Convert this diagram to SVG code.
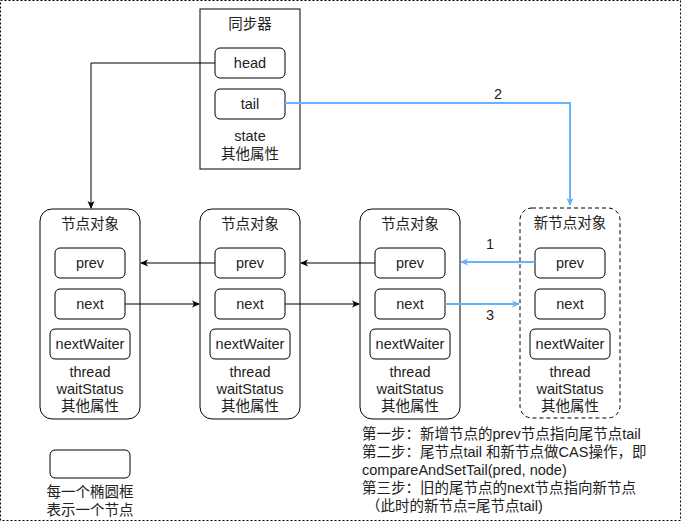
<svg xmlns="http://www.w3.org/2000/svg" width="681" height="521" viewBox="0 0 681 521">
<style>
text{font-family:"Liberation Sans","Noto Sans CJK SC",sans-serif;font-size:14.5px;fill:#222;text-anchor:middle}
.b{fill:#fff;stroke:#000;stroke-width:1}
.k{fill:none;stroke:#000;stroke-width:1}
.u{fill:none;stroke:#66b2ff;stroke-width:2}
.cap{text-anchor:start}
</style>
<defs>
<marker id="ak" markerWidth="8" markerHeight="8" refX="7" refY="4" orient="auto" markerUnits="userSpaceOnUse"><path d="M0,0.5 L8,4 L0,7.5 L2,4Z" fill="#000"/></marker>
<marker id="au" markerWidth="8" markerHeight="8" refX="7" refY="4" orient="auto" markerUnits="userSpaceOnUse"><path d="M0,0.5 L8,4 L0,7.5 L2,4Z" fill="#66b2ff"/></marker>
</defs>
<rect x="0.5" y="0.5" width="680" height="520" fill="#fff" stroke="#000" stroke-dasharray="2,2"/>
<g id="sync">
<rect class="b" x="200" y="9" width="100" height="160"/>
<text x="250" y="29">同步器</text>
<rect class="b" x="215" y="48" width="70" height="30" rx="5"/><text x="250" y="68">head</text>
<rect class="b" x="215" y="89" width="70" height="30" rx="5"/><text x="250" y="109">tail</text>
<text x="250" y="141">state</text><text x="250" y="159">其他属性</text>
</g>
<g id="n1">
<rect class="b" x="40" y="209" width="100" height="210" rx="12"/>
<text x="90" y="229">节点对象</text>
<rect class="b" x="55" y="248" width="70" height="30" rx="5"/><text x="90" y="268">prev</text>
<rect class="b" x="55" y="289" width="70" height="30" rx="5"/><text x="90" y="309">next</text>
<rect class="b" x="50" y="329" width="80" height="30" rx="5"/><text x="90" y="349">nextWaiter</text>
<text x="90" y="377">thread</text><text x="90" y="394">waitStatus</text><text x="90" y="411">其他属性</text>
</g>
<g id="n2">
<rect class="b" x="200" y="209" width="100" height="210" rx="12"/>
<text x="250" y="229">节点对象</text>
<rect class="b" x="215" y="248" width="70" height="30" rx="5"/><text x="250" y="268">prev</text>
<rect class="b" x="215" y="289" width="70" height="30" rx="5"/><text x="250" y="309">next</text>
<rect class="b" x="210" y="329" width="80" height="30" rx="5"/><text x="250" y="349">nextWaiter</text>
<text x="250" y="377">thread</text><text x="250" y="394">waitStatus</text><text x="250" y="411">其他属性</text>
</g>
<g id="n3">
<rect class="b" x="360" y="209" width="100" height="210" rx="12"/>
<text x="410" y="229">节点对象</text>
<rect class="b" x="375" y="248" width="70" height="30" rx="5"/><text x="410" y="268">prev</text>
<rect class="b" x="375" y="289" width="70" height="30" rx="5"/><text x="410" y="309">next</text>
<rect class="b" x="370" y="329" width="80" height="30" rx="5"/><text x="410" y="349">nextWaiter</text>
<text x="410" y="377">thread</text><text x="410" y="394">waitStatus</text><text x="410" y="411">其他属性</text>
</g>
<g id="n4">
<rect class="b" x="520" y="208" width="100" height="210" rx="12" stroke-dasharray="4,3"/>
<text x="570" y="228">新节点对象</text>
<rect class="b" x="535" y="248" width="70" height="30" rx="5"/><text x="570" y="268">prev</text>
<rect class="b" x="535" y="289" width="70" height="30" rx="5"/><text x="570" y="309">next</text>
<rect class="b" x="530" y="329" width="80" height="30" rx="5"/><text x="570" y="349">nextWaiter</text>
<text x="570" y="377">thread</text><text x="570" y="394">waitStatus</text><text x="570" y="411">其他属性</text>
</g>
<g id="connectors">
<path class="k" d="M215,63 H91 V208" marker-end="url(#ak)"/>
<path class="u" d="M285,103 H570 V205" marker-end="url(#au)"/>
<text x="498" y="99">2</text>
<path class="k" d="M215,263 H141" marker-end="url(#ak)"/>
<path class="k" d="M375,263 H301" marker-end="url(#ak)"/>
<path class="u" d="M535,262 H461" marker-end="url(#au)"/>
<text x="490" y="249">1</text>
<path class="k" d="M125,304 H199" marker-end="url(#ak)"/>
<path class="k" d="M285,304 H359" marker-end="url(#ak)"/>
<path class="u" d="M445,304 H519" marker-end="url(#au)"/>
<text x="490" y="320">3</text>
</g>
<g id="legend">
<rect class="b" x="50" y="450" width="80" height="28" rx="5"/>
<text x="90" y="497">每一个椭圆框</text>
<text x="90" y="515">表示一个节点</text>
</g>
<g id="caption">
<text class="cap" x="362" y="439">第一步：新增节点的prev节点指向尾节点tail</text>
<text class="cap" x="362" y="457">第二步：尾节点tail 和新节点做CAS操作，即</text>
<text class="cap" x="362" y="475">compareAndSetTail(pred, node)</text>
<text class="cap" x="362" y="493">第三步：旧的尾节点的next节点指向新节点</text>
<text class="cap" x="366" y="511">（此时的新节点=尾节点tail)</text>
</g>
</svg>
